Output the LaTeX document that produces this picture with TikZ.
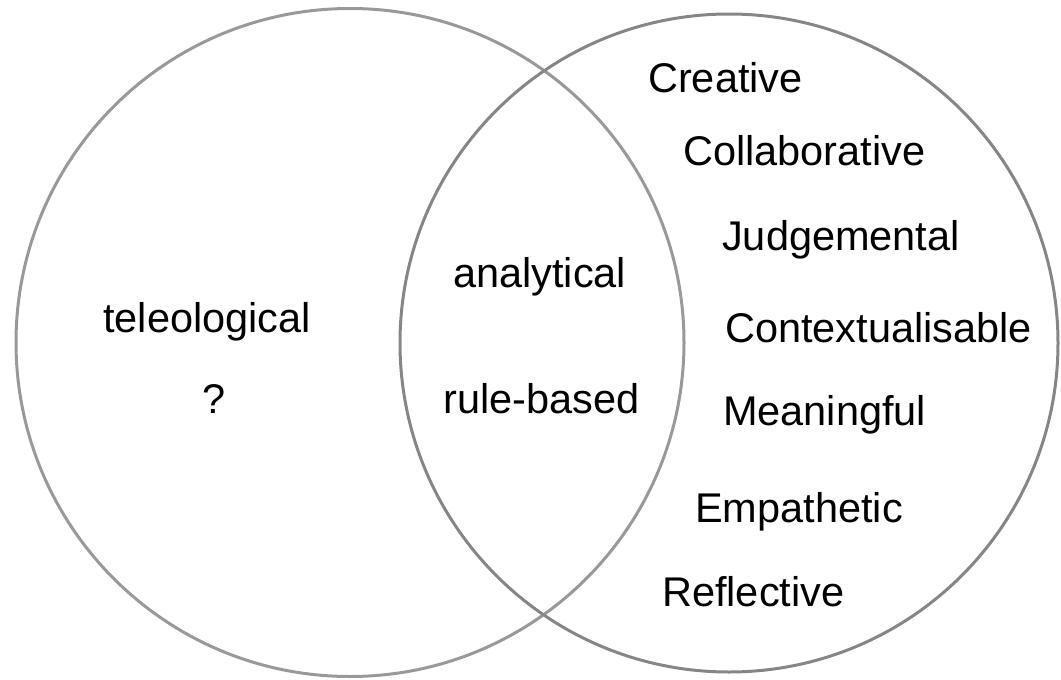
\documentclass[tikz,border=0pt]{standalone}
\usepackage{fontspec}
\setmainfont{Liberation Sans}
\begin{document}
\begin{tikzpicture}[x=1pt,y=-1pt,
  ring/.style={draw=#1, line width=3pt, circle, inner sep=0pt},
  term/.style={anchor=base west, inner sep=0pt, font=\fontsize{41.5}{50}\selectfont}]
  \useasboundingbox (0,0) rectangle (1061,680);
  % the two overlapping sets
  \node[ring=gray!80, minimum size=668pt] (setA) at (350,342.5) {};
  \node[ring=gray!105!black, minimum size=658pt] (setB) at (729,343) {};
  % left-only region
  \node[term] (teleo) at (103,332) {teleological};
  \node[term] (quest) at (202,413) {?};
  % intersection
  \node[term] (analyt) at (453,287) {analytical};
  \node[term] (rule) at (443,413) {rule-based};
  % right-only region
  \node[term] (creat) at (648,92) {Creative};
  \node[term] (collab) at (683,165) {Collaborative};
  \node[term] (judge) at (722,250) {Judgemental};
  \node[term] (context) at (725,342) {Contextualisable};
  \node[term] (mean) at (723,425) {Meaningful};
  \node[term] (empath) at (695,522) {Empathetic};
  \node[term] (reflect) at (662,606) {Reflective};
\end{tikzpicture}
\end{document}
